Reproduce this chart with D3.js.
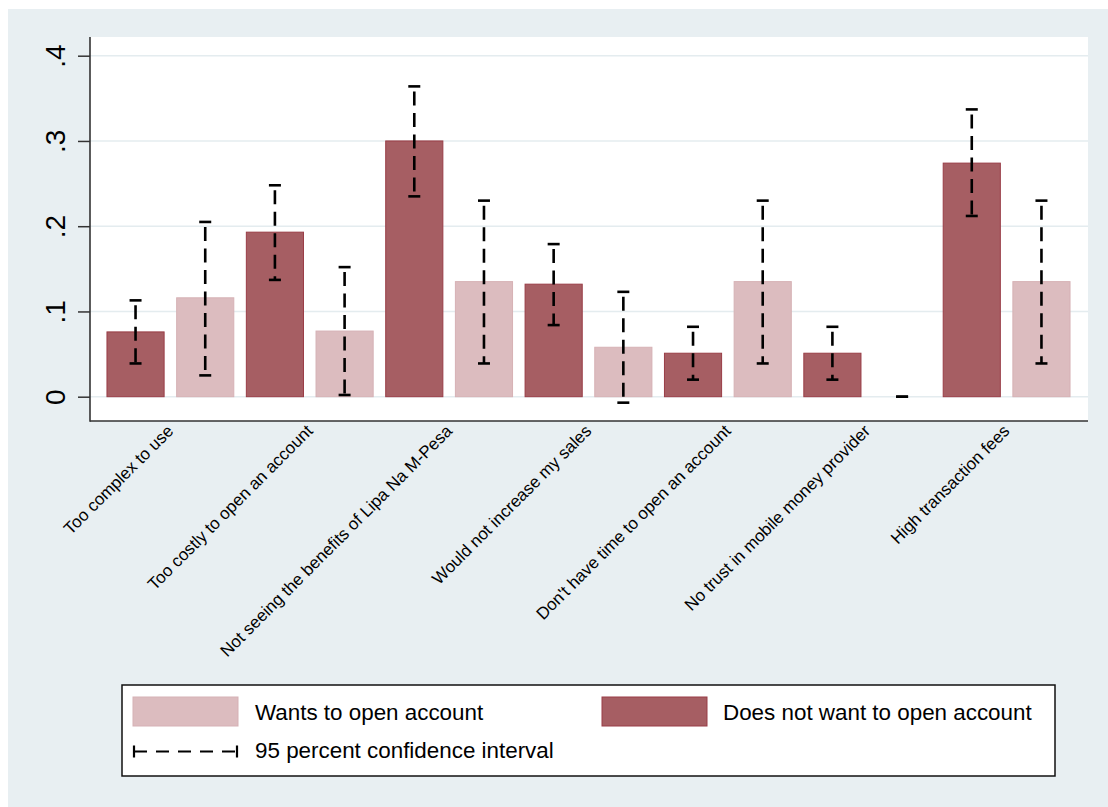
<!DOCTYPE html>
<html>
<head>
<meta charset="utf-8">
<script src="https://cdn.jsdelivr.net/npm/d3@7"></script>
<style>
  html, body { margin: 0; padding: 0; background: #ffffff; }
  svg { display: block; font-family: "Liberation Sans", Arial, Helvetica, sans-serif; }
</style>
</head>
<body>
<svg id="chart" width="1108" height="807"></svg>
<script>
// ---------- data ----------
const categories = [
  "Too complex to use",
  "Too costly to open an account",
  "Not seeing the benefits of Lipa Na M-Pesa",
  "Would not increase my sales",
  "Don't have time to open an account",
  "No trust in mobile money provider",
  "High transaction fees"
];
const seriesKeys = ["notWant", "wants"];
const seriesLabels = ["Does not want to open account", "Wants to open account"];

const notWant   = [0.076, 0.193, 0.300, 0.132, 0.051, 0.051, 0.274];
const notWantLo = [0.039, 0.137, 0.235, 0.084, 0.020, 0.020, 0.212];
const notWantHi = [0.113, 0.248, 0.364, 0.179, 0.082, 0.082, 0.337];

const wants     = [0.116, 0.077, 0.135, 0.058, 0.135, 0.000, 0.135];
const wantsLo   = [0.025, 0.002, 0.039, -0.007, 0.039, 0.000, 0.039];
const wantsHi   = [0.205, 0.152, 0.230, 0.123, 0.230, 0.000, 0.230];

const yTicks = [0, 0.1, 0.2, 0.3, 0.4];
const yTickLabels = ["0", ".1", ".2", ".3", ".4"];
const ciLabel = "95 percent confidence interval";

// ---------- build rows ----------
const rows = categories.map((c, i) => ({
  cat: c,
  notWant: { v: notWant[i], lo: notWantLo[i], hi: notWantHi[i] },
  wants:   { v: wants[i],   lo: wantsLo[i],   hi: wantsHi[i] }
}));

// ---------- styles ----------
const fills   = { notWant: "#a65e63", wants: "#dcbcbf" };
const strokes = { notWant: "#993d46", wants: "#d6b1b5" };

const svg = d3.select("#chart");

// outer background
svg.append("rect").attr("x", 8).attr("y", 9).attr("width", 1100).attr("height", 798)
  .attr("fill", "#e8eff2");

// plot region
const plot = { left: 90, right: 1088, top: 37, bottom: 421 };
svg.append("rect").attr("x", plot.left).attr("y", plot.top)
  .attr("width", plot.right - plot.left).attr("height", plot.bottom - plot.top)
  .attr("fill", "#ffffff");

// scales
const y = d3.scaleLinear().domain([0, 0.4]).range([396.7, 55.7]);
const x0 = d3.scaleBand().domain(categories).range([100.7, 1076.3]).padding(0);
const x1 = d3.scaleBand().domain(seriesKeys).range([0, x0.bandwidth()])
  .paddingInner(0.18).paddingOuter(0.09);

// gridlines
svg.append("g").selectAll("line").data(yTicks).join("line")
  .attr("x1", plot.left).attr("x2", plot.right)
  .attr("y1", d => y(d)).attr("y2", d => y(d))
  .attr("stroke", "#e4ecef").attr("stroke-width", 1.6);

// bars
const groups = svg.append("g").selectAll("g").data(rows).join("g")
  .attr("transform", d => `translate(${x0(d.cat)},0)`);

groups.selectAll("rect").data(d => seriesKeys.map(k => ({ k, ...d[k] }))).join("rect")
  .filter(d => d.v > 0)
  .attr("x", d => x1(d.k)).attr("width", x1.bandwidth())
  .attr("y", d => y(d.v)).attr("height", d => y(0) - y(d.v))
  .attr("fill", d => fills[d.k]).attr("stroke", d => strokes[d.k]).attr("stroke-width", 1);

// error bars
const eb = groups.selectAll("g.eb").data(d => seriesKeys.map(k => ({ k, ...d[k] }))).join("g")
  .attr("class", "eb")
  .attr("transform", d => `translate(${x1(d.k) + x1.bandwidth() / 2},0)`);
eb.append("line")
  .attr("x1", 0).attr("x2", 0)
  .attr("y1", d => y(d.hi)).attr("y2", d => y(d.lo))
  .attr("stroke", "#000").attr("stroke-width", 2.6)
  .attr("stroke-dasharray", "14 7.5").attr("stroke-dashoffset", 16.5);
eb.append("line").attr("x1", -6).attr("x2", 6)
  .attr("y1", d => y(d.hi)).attr("y2", d => y(d.hi))
  .attr("stroke", "#000").attr("stroke-width", 2.6);
eb.append("line").attr("x1", -6).attr("x2", 6)
  .attr("y1", d => y(d.lo)).attr("y2", d => y(d.lo))
  .attr("stroke", "#000").attr("stroke-width", 2.6);

// y axis
const yAxis = svg.append("g").attr("transform", `translate(${plot.left},0)`)
  .call(d3.axisLeft(y).tickValues(yTicks).tickSize(12).tickFormat((d, i) => yTickLabels[i]));
yAxis.select(".domain").remove();
yAxis.selectAll(".tick line").attr("stroke", "#333").attr("stroke-width", 1.5);
yAxis.selectAll(".tick text")
  .attr("x", null).attr("dy", null)
  .attr("transform", "translate(-25,0) rotate(-90)")
  .attr("text-anchor", "middle")
  .attr("font-size", 28).attr("fill", "#000")
  .style("font-family", '"Liberation Sans", Arial, sans-serif');

// axis lines
svg.append("line").attr("x1", plot.left).attr("x2", plot.left)
  .attr("y1", plot.top).attr("y2", plot.bottom + 0.75)
  .attr("stroke", "#333").attr("stroke-width", 1.6);
svg.append("line").attr("x1", plot.left).attr("x2", plot.right)
  .attr("y1", plot.bottom).attr("y2", plot.bottom)
  .attr("stroke", "#333").attr("stroke-width", 1.6);

// x labels
const xAxis = svg.append("g").attr("transform", `translate(0,${plot.bottom})`)
  .call(d3.axisBottom(x0).tickSize(0));
xAxis.select(".domain").remove();
xAxis.selectAll(".tick text")
  .attr("y", null).attr("dy", null)
  .attr("transform", "translate(4,11) rotate(-45)")
  .attr("text-anchor", "end")
  .attr("font-size", 17).attr("fill", "#000")
  .style("font-family", '"Liberation Sans", Arial, sans-serif');

// legend
const lg = svg.append("g");
lg.append("rect").attr("x", 122).attr("y", 685).attr("width", 933).attr("height", 91)
  .attr("fill", "#ffffff").attr("stroke", "#111").attr("stroke-width", 1.5);

const legendItems = [
  { k: "wants", label: seriesLabels[1], sx: 133, tx: 255 },
  { k: "notWant", label: seriesLabels[0], sx: 602, tx: 723 }
];
legendItems.forEach(it => {
  lg.append("rect").attr("x", it.sx).attr("y", 697).attr("width", 105).attr("height", 29)
    .attr("fill", fills[it.k]).attr("stroke", strokes[it.k]).attr("stroke-width", 1);
  lg.append("text").attr("x", it.tx).attr("y", 719.5).attr("font-size", 22.4)
    .attr("fill", "#000").text(it.label);
});
// CI key
const ky = 751.5;
lg.append("line").attr("x1", 134).attr("x2", 237).attr("y1", ky).attr("y2", ky)
  .attr("stroke", "#000").attr("stroke-width", 2.2).attr("stroke-dasharray", "13 9");
lg.append("line").attr("x1", 134).attr("x2", 134).attr("y1", ky - 6).attr("y2", ky + 6)
  .attr("stroke", "#000").attr("stroke-width", 2.2);
lg.append("line").attr("x1", 237).attr("x2", 237).attr("y1", ky - 6).attr("y2", ky + 6)
  .attr("stroke", "#000").attr("stroke-width", 2.2);
lg.append("text").attr("x", 255).attr("y", 757.5).attr("font-size", 22.4)
  .attr("fill", "#000").text(ciLabel);
</script>
</body>
</html>
